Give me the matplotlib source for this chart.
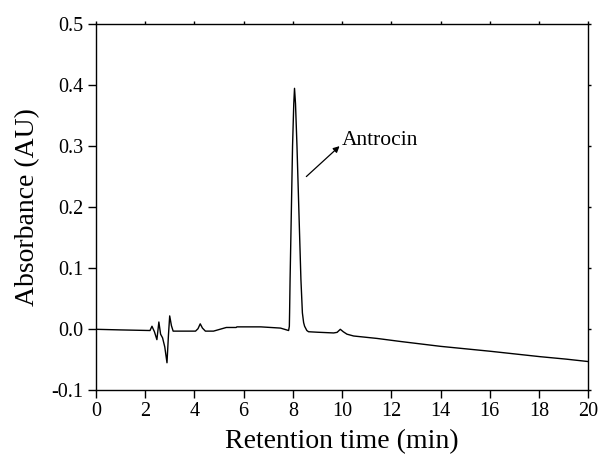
import numpy as np
import matplotlib
matplotlib.use('Agg')
from matplotlib import pyplot as plt

# Chromatogram: retention time (min) and absorbance (AU)
time_min = [0.0, 1.0, 2.2, 2.28, 2.38, 2.48, 2.56, 2.63, 2.71, 2.80, 2.89,
            2.95, 3.0, 3.07, 3.14, 3.7, 4.05, 4.15, 4.24, 4.33, 4.45, 4.78,
            5.3, 5.7, 5.73, 6.7, 7.5, 7.83, 7.86, 7.87, 7.89, 7.94, 7.99,
            8.04, 8.07, 8.11, 8.17, 8.25, 8.33, 8.39, 8.44, 8.48, 8.57, 8.64,
            9.0, 9.66, 9.8, 9.93, 10.05, 10.2, 10.47, 11.42, 12.37, 14.0,
            16.0, 18.05, 19.1, 20.0]
absorb_au = [-0.001, -0.002, -0.003, 0.004, -0.005, -0.018, 0.011, -0.009,
             -0.015, -0.030, -0.056, -0.010, 0.021, 0.005, -0.004, -0.004,
             -0.004, 0.0, 0.008, 0.001, -0.004, -0.004, 0.002, 0.002, 0.003,
             0.003, 0.001, -0.003, 0.004, 0.026, 0.081, 0.19, 0.30, 0.37,
             0.395, 0.37, 0.30, 0.19, 0.081, 0.026, 0.01, 0.004, -0.003,
             -0.005, -0.0058, -0.007, -0.006, -0.001, -0.005, -0.009, -0.012,
             -0.016, -0.021, -0.029, -0.037, -0.046, -0.050, -0.054]

peak_name = 'Antrocin'
arrow_tail = (8.55, 0.25)
arrow_head = (9.9, 0.30)

plt.rcParams['font.family'] = ['Liberation Serif', 'DejaVu Serif']

fig = plt.figure(figsize=(5.99, 4.61), dpi=100)
ax = fig.add_axes([0.160, 0.155, 0.822, 0.792])
ax.plot(time_min, absorb_au, color='black', linewidth=1.0)

ax.annotate('', xy=arrow_head, xytext=arrow_tail,
            arrowprops=dict(arrowstyle='-|>', color='black', lw=0.9,
                            mutation_scale=9, shrinkA=0, shrinkB=0))
ax.text(10.0, 0.31, peak_name, fontsize=15.5, va='center', ha='left')

ax.set_xlim(0, 20)
ax.set_ylim(-0.1, 0.5)
ax.set_xticks(np.arange(0, 21, 2))
ax.set_yticks(np.arange(-0.1, 0.51, 0.1))
ax.set_yticklabels(['-0.1', '0.0', '0.1', '0.2', '0.3', '0.4', '0.5'])
ax.tick_params(axis='both', which='major', direction='out', length=6,
               width=1.0, labelsize=14.5, pad=3)
ax.tick_params(top=True, right=True)
for t in ax.xaxis.get_major_ticks():
    t.tick2line.set_markersize(2)
for t in ax.yaxis.get_major_ticks():
    t.tick2line.set_markersize(2)
for s in ax.spines.values():
    s.set_linewidth(1.0)

ax.set_xlabel('Retention time (min)', fontsize=20, labelpad=6)
ax.set_ylabel('Absorbance (AU)', fontsize=20, labelpad=8)

fig.savefig('out.png', dpi=100)
